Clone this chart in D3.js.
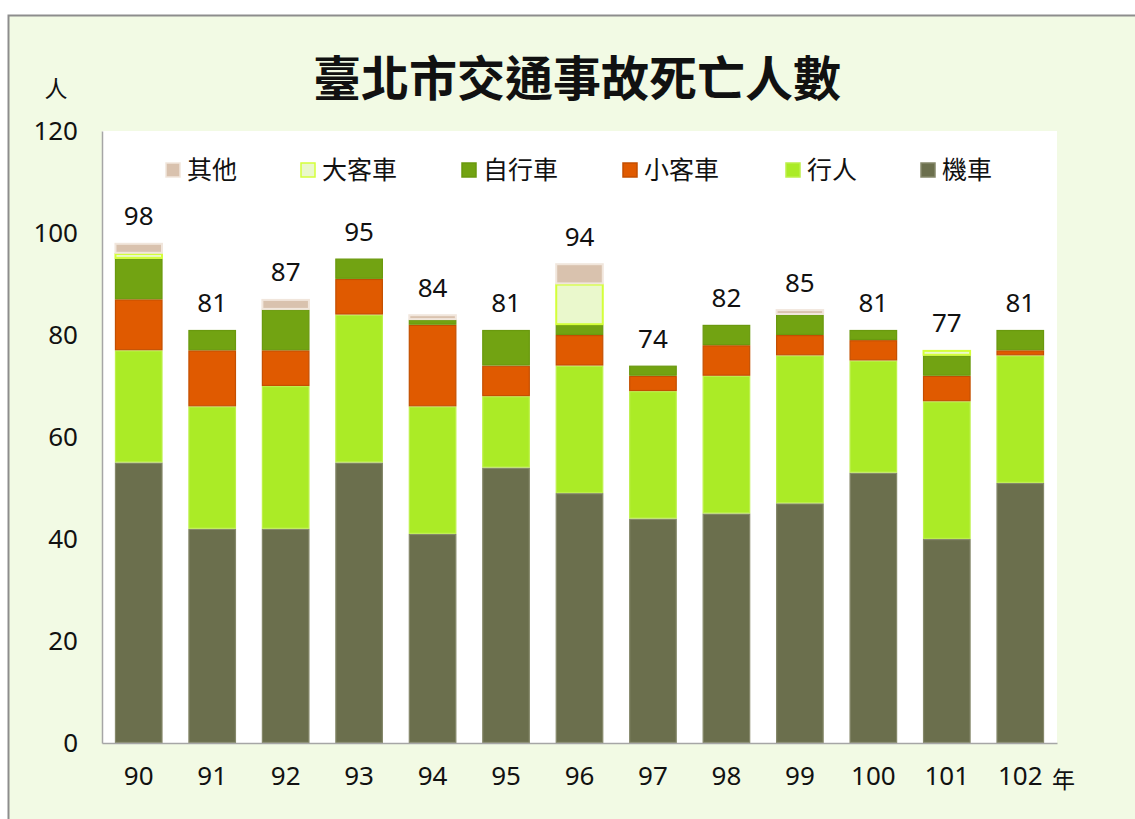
<!DOCTYPE html>
<html>
<head>
<meta charset="utf-8">
<title>臺北市交通事故死亡人數</title>
<script src="https://cdn.jsdelivr.net/npm/d3@7"></script>
<style>
  body { margin: 0; background: #fff; }
  text { font-family: "Noto Sans", "Noto Sans CJK TC", sans-serif; fill: #111; }
  .cjk { font-family: "Noto Sans CJK TC", "Noto Sans", sans-serif; }
</style>
</head>
<body>
<script>
// years (民國) on the x axis
var years = ["90", "91", "92", "93", "94", "95", "96", "97", "98", "99", "100", "101", "102"];

// deaths by mode, bottom of stack first
var moto  = [55, 42, 42, 55, 41, 54, 49, 44, 45, 47, 53, 40, 51];
var ped   = [22, 24, 28, 29, 25, 14, 25, 25, 27, 29, 22, 27, 25];
var car   = [10, 11,  7,  7, 16,  6,  6,  3,  6,  4,  4,  5,  1];
var bike  = [ 8,  4,  8,  4,  1,  7,  2,  2,  4,  4,  2,  4,  4];
var bus   = [ 1,  0,  0,  0,  0,  0,  8,  0,  0,  0,  0,  1,  0];
var other = [ 2,  0,  2,  0,  1,  0,  4,  0,  0,  1,  0,  0,  0];

var seriesNames = ["機車", "行人", "小客車", "自行車", "大客車", "其他"];
var yTicks = [0, 20, 40, 60, 80, 100, 120];

var fills   = ["#6b6f4d", "#abeb26", "#e05a00", "#72a312", "#eaf8cc", "#d9c2ae"];
var strokes = ["#85886a", "#bdf04a", "#c44f00", "#6a990e", "#d4ff3a", "#f1e6dc"];

var width = 1135, height = 819;
// plot box (don't call these top/left: window.top is read-only)
var plotL = 102, plotR = 1057, plotT = 131, plotB = 743;

var rows = years.map(function(y, i) {
    return { year: y, "機車": moto[i], "行人": ped[i], "小客車": car[i],
             "自行車": bike[i], "大客車": bus[i], "其他": other[i] };
});

var svg = d3.select("body").append("svg")
    .attr("width", width)
    .attr("height", height);

// chart frame
svg.append("rect")
    .attr("x", 8.5).attr("y", 15.5)
    .attr("width", 1200).attr("height", 900)
    .attr("fill", "#f2fae4")
    .attr("stroke", "#8d8d8d")
    .attr("stroke-width", 2);

// plot area
svg.append("rect")
    .attr("x", plotL).attr("y", plotT)
    .attr("width", plotR - plotL).attr("height", plotB - plotT)
    .attr("fill", "#fff");

var x = d3.scaleBand()
    .domain(years)
    .range([plotL, plotR])
    .paddingInner(0.35)
    .paddingOuter(0.175);

var y = d3.scaleLinear()
    .domain([0, 120])
    .range([plotB, plotT]);

var stack = d3.stack().keys(seriesNames);
var layers = stack(rows);

svg.selectAll("g.layer")
    .data(layers)
    .enter().append("g")
    .attr("class", "layer")
    .attr("fill", function(d, i) { return fills[i]; })
    .attr("stroke", function(d, i) { return strokes[i]; })
    .attr("stroke-width", function(d, i) { return i >= 4 ? 2 : 1.2; })
    .selectAll("rect")
    .data(function(d) { return d.filter(function(p) { return p[1] > p[0]; }); })
    .enter().append("rect")
    .attr("x", function(d) { return x(d.data.year) + 0.6; })
    .attr("width", x.bandwidth() - 1.2)
    .attr("y", function(d) { return y(d[1]) + 0.6; })
    .attr("height", function(d) { return Math.max(0, y(d[0]) - y(d[1]) - 1.2); });

// axes
var yAxis = d3.axisLeft(y).tickValues(yTicks).tickSize(0).tickPadding(24);
var gy = svg.append("g")
    .attr("transform", "translate(" + plotL + ",0)")
    .call(yAxis);
gy.select(".domain").attr("stroke", "#a6a6a6").attr("stroke-width", 1.5);
gy.selectAll("text").attr("font-size", 26).attr("fill", "#111")
    .attr("font-family", "'Noto Sans', sans-serif");

var xAxis = d3.axisBottom(x).tickSize(0).tickPadding(24);
var gx = svg.append("g")
    .attr("transform", "translate(0," + plotB + ")")
    .call(xAxis);
gx.select(".domain").attr("stroke", "#a6a6a6").attr("stroke-width", 1.5);
gx.selectAll("text").attr("font-size", 26).attr("fill", "#111")
    .attr("font-family", "'Noto Sans', sans-serif");

// totals above bars
svg.selectAll("text.total")
    .data(rows)
    .enter().append("text")
    .attr("class", "total")
    .attr("x", function(d) { return x(d.year) + x.bandwidth() / 2; })
    .attr("y", function(d) {
        var t = d3.sum(seriesNames, function(k) { return d[k]; });
        return y(t) - 18;
    })
    .attr("text-anchor", "middle")
    .attr("font-size", 26)
    .text(function(d) { return d3.sum(seriesNames, function(k) { return d[k]; }); });

// unit labels
svg.append("text").attr("class", "cjk")
    .attr("x", 56).attr("y", 97)
    .attr("text-anchor", "middle")
    .attr("font-size", 23)
    .text("人");
svg.append("text").attr("class", "cjk")
    .attr("x", 1052).attr("y", 788)
    .attr("font-size", 23)
    .text("年");

// title
svg.append("text").attr("class", "cjk")
    .attr("x", 577).attr("y", 96)
    .attr("text-anchor", "middle")
    .attr("font-size", 48)
    .attr("font-weight", "bold")
    .text("臺北市交通事故死亡人數");

// legend, top of stack first
var legendX = [166, 301, 462, 623, 786, 921];
var legendOrder = seriesNames.slice().reverse();
var lg = svg.selectAll("g.legend")
    .data(legendOrder)
    .enter().append("g")
    .attr("class", "legend")
    .attr("transform", function(d, i) { return "translate(" + legendX[i] + ",163)"; });

lg.append("rect")
    .attr("width", 14).attr("height", 14)
    .attr("fill", function(d) { return fills[seriesNames.indexOf(d)]; })
    .attr("stroke", function(d) { return strokes[seriesNames.indexOf(d)]; })
    .attr("stroke-width", 1.5);

lg.append("text").attr("class", "cjk")
    .attr("x", 21).attr("y", 16)
    .attr("font-size", 25)
    .text(function(d) { return d; });
</script>
</body>
</html>
